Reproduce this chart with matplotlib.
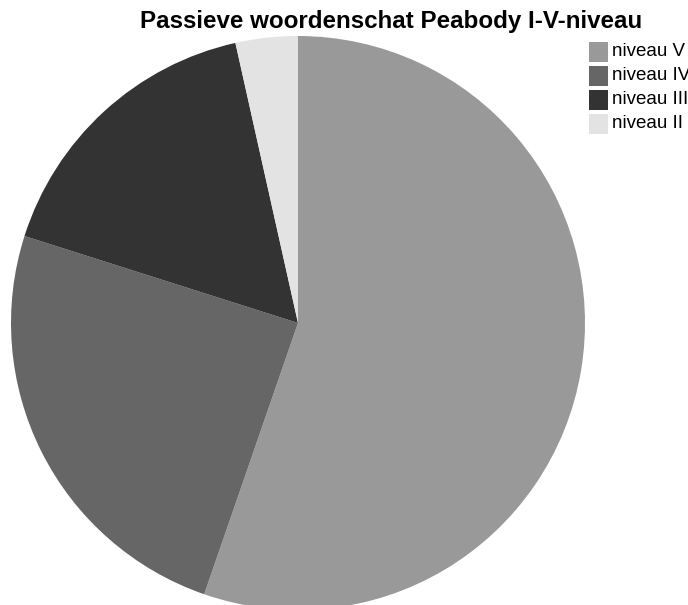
import matplotlib
matplotlib.use("Agg")
import matplotlib.pyplot as plt
from matplotlib.patches import Rectangle

labels = ["niveau V", "niveau IV", "niveau III", "niveau II"]
shares = [55.3, 24.6, 16.6, 3.5]
colors = ["#999999", "#666666", "#333333", "#e3e3e3"]

W, H = 688, 605
fig = plt.figure(figsize=(W / 100, H / 100), dpi=100)

cx, cy, r = 298, 323, 287
ax = fig.add_axes([(cx - r) / W, (H - cy - r) / H, 2 * r / W, 2 * r / H])
ax.pie(shares, colors=colors, startangle=90, counterclock=False,
       radius=1.0, wedgeprops=dict(linewidth=0))
ax.set_xlim(-1, 1)
ax.set_ylim(-1, 1)
ax.set_aspect("auto")
ax.axis("off")

fig.text(391 / W, 1 - 28 / H, "Passieve woordenschat Peabody I-V-niveau",
         ha="center", va="baseline", fontsize=17.4, fontweight="bold",
         family="Liberation Sans")

# legend drawn in figure pixels
for i, (lab, col) in enumerate(zip(labels, colors)):
    yc = 52 + 24 * i
    fig.patches.append(Rectangle((589 / W, 1 - (yc + 9.5) / H), 19 / W, 19 / H,
                                 facecolor=col, edgecolor="none",
                                 transform=fig.transFigure, figure=fig))
    fig.text(612 / W, 1 - yc / H, lab, ha="left", va="center",
             fontsize=13.5, family="Liberation Sans")

fig.savefig("out.png", dpi=100)
